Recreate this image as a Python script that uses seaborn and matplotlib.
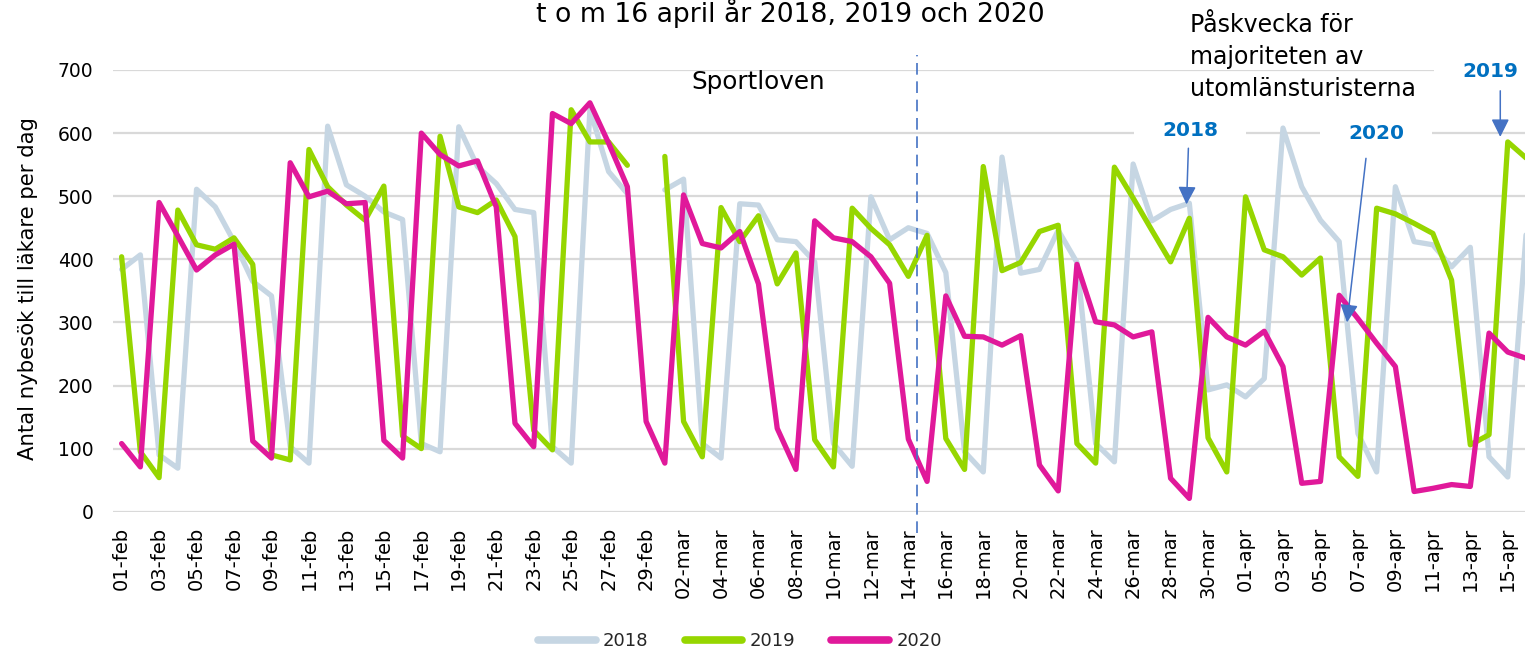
import matplotlib
matplotlib.use("Agg")
import matplotlib.pyplot as plt
import seaborn as sns
import pandas as pd
from matplotlib import font_manager
from matplotlib.lines import Line2D

sns.set_theme(style="white")
_names = {f.name for f in font_manager.fontManager.ttflist}
NARROW = "Liberation Sans Narrow" if "Liberation Sans Narrow" in _names else "DejaVu Sans"
plt.rcParams["font.family"] = ["DejaVu Sans"]

# ---------------- data ----------------
days = ([f"{d:02d}-feb" for d in range(1, 30)]
        + [f"{d:02d}-mar" for d in range(1, 32)]
        + [f"{d:02d}-apr" for d in range(1, 17)])
years = ["2018", "2019", "2020"]

v2018 = [384, 407, 90, 69, 511, 483, 428, 365, 342, 103, 77, 611, 518, 500, 475, 463,
         108, 95, 610, 547, 520, 479, 474, 103, 77, 637, 539, 504, None, 510, 527, 108,
         85, 488, 486, 431, 428, 396, 108, 72, 499, 431, 450, 441, 379, 95, 63, 562,
         378, 384, 446, 395, 108, 79, 551, 461, 479, 489, 193, 201, 182, 211, 608, 515,
         462, 428, 124, 63, 515, 428, 423, 388, 419, 87, 55, 449]
v2019 = [404, 95, 54, 478, 423, 416, 434, 392, 90, 82, 574, 515, 486, 462, 516, 120,
         100, 595, 483, 474, 494, 436, 129, 98, 637, 586, 586, 549, None, 563, 143, 87,
         482, 428, 469, 361, 410, 114, 71, 481, 449, 423, 373, 438, 116, 67, 547, 382,
         395, 444, 454, 108, 77, 546, 497, 446, 396, 465, 117, 63, 499, 415, 404, 375,
         402, 87, 56, 481, 472, 457, 441, 367, 106, 122, 586, 560]
v2020 = [108, 71, 490, 437, 383, 407, 424, 112, 85, 553, 499, 508, 488, 490, 113, 85,
         600, 566, 548, 556, 483, 140, 103, 631, 615, 648, 584, 515, 143, 77, 502, 425,
         418, 444, 361, 132, 67, 461, 434, 428, 404, 362, 115, 48, 342, 278, 277, 264,
         279, 74, 33, 392, 301, 296, 277, 285, 53, 21, 308, 277, 264, 286, 230, 45,
         48, 343, 306, 267, 230, 32, 37, 43, 40, 283, 253, 243]

colors = {"2018": "#C6D6E3", "2019": "#96D600", "2020": "#E0199A"}

rows = []
for yr, vals in zip(years, [v2018, v2019, v2020]):
    seg = 0
    for i, v in enumerate(vals):
        if v is None:
            seg += 1
            continue
        rows.append(dict(idx=i, value=v, year=yr, seg=seg))
df = pd.DataFrame(rows)

# ---------------- figure ----------------
W, H = 1525, 654
fig = plt.figure(figsize=(W / 100, H / 100), dpi=100)
y0, y700 = 511.7, 70.0
ax = fig.add_axes([113 / W, 1 - y0 / H, 1 - 113 / W, (y0 - y700) / H])

sns.lineplot(data=df, x="idx", y="value", hue="year", units="seg", estimator=None,
             palette=colors, hue_order=years, linewidth=3.8, ax=ax, legend=False,
             sort=False, zorder=2)

ax.set_xlim(-0.46, 74.92)
ax.set_ylim(0, 700)
ax.set_yticks(range(0, 701, 100))
ax.set_xticks(range(0, len(days), 2))
ax.set_xticklabels(days[::2], rotation=90, fontsize=14, color="#000000")
ax.tick_params(axis="x", length=0, pad=11)
ax.tick_params(axis="y", length=0, pad=14, labelsize=13.5, labelcolor="#000000")
ax.set_xlabel("")
ax.set_ylabel("")
for s in ax.spines.values():
    s.set_visible(False)
ax.set_axisbelow(True)
ax.yaxis.grid(True, color="#D9D9D9", linewidth=1.6, zorder=0)
ax.xaxis.grid(False)

# dashed vertical line
ax.plot([42.47, 42.47], [-34, 724], color="#4472C4", linewidth=1.2,
        linestyle=(0, (7, 4)), clip_on=False, zorder=3)

# annotations
ax.text(33.98, 681, "Sportloven", ha="center", va="center", fontsize=17.7, color="#000000")
ax.text(57.05, 720, "Påskvecka för\nmajoriteten av\nutomlänsturisterna", ha="left",
        va="center", fontsize=17, linespacing=1.42, color="#000000", clip_on=False)

blue = "#0070C0"
arrow_c = "#4472C4"
box = dict(boxstyle="square,pad=1.4", fc="white", ec="none")
ax.text(57.05, 604, "2018", ha="center", va="center", fontsize=14.5, fontweight="bold",
        color=blue, bbox=box, zorder=1.5)
ax.text(66.97, 599, "2020", ha="center", va="center", fontsize=14.5, fontweight="bold",
        color=blue, bbox=box, zorder=1.5)
ax.text(73.05, 698, "2019", ha="center", va="center", fontsize=14.5, fontweight="bold",
        color=blue, bbox=box, zorder=1.5, clip_on=False)

ap = dict(arrowstyle="-|>,head_length=0.9,head_width=0.45", color=arrow_c, lw=1.1,
          shrinkA=0, shrinkB=0)
ax.annotate("", xy=(56.85, 487), xytext=(56.95, 576), arrowprops=ap, zorder=4)
ax.annotate("", xy=(65.42, 300), xytext=(66.43, 560), arrowprops=ap, zorder=4)
ax.annotate("", xy=(73.6, 594), xytext=(73.6, 667), arrowprops=ap, zorder=4,
            annotation_clip=False)

# title (partly cut at the top, as in the reference)
title = fig.text(790 / W, 1 - 22 / H, "t o m 16 april år 2018, 2019 och 2020",
                 ha="center", va="baseline", fontsize=20, family=NARROW, color="#000000")

# y label
ylab = fig.text(28 / W, 1 - 289 / H, "Antal nybesök till läkare per dag", rotation=90,
                ha="center", va="center", fontsize=14, color="#000000")

# legend
handles = [Line2D([0], [0], color=colors[y], lw=5.5, solid_capstyle="round") for y in years]
leg = ax.legend(handles, years, loc="center", bbox_to_anchor=(740 / W, 1 - 641 / H),
                bbox_transform=fig.transFigure, ncol=3, frameon=False,
                handlelength=3.2, handletextpad=0.4, columnspacing=2.0,
                prop=dict(family=NARROW, size=13))

# fit text widths to the reference
fig.canvas.draw()
r = fig.canvas.get_renderer()
def fit(t, target, dim="w"):
    e = t.get_window_extent(r)
    cur = e.width if dim == "w" else e.height
    t.set_fontsize(t.get_fontsize() * target / cur)
fit(title, 510)
fit(ylab, 347, "h")

fig.savefig("out.png", dpi=100, facecolor="white")
